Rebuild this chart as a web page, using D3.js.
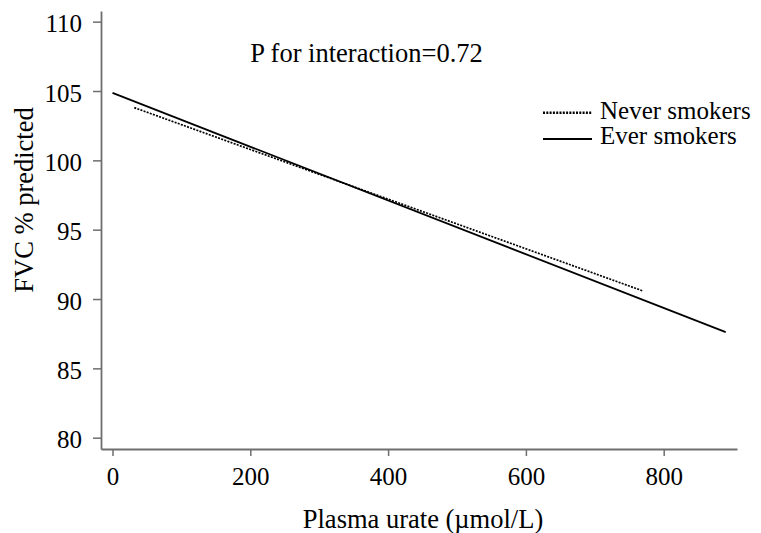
<!DOCTYPE html>
<html>
<head>
<meta charset="utf-8">
<script src="https://cdn.jsdelivr.net/npm/d3@7"></script>
</head>
<body style="margin:0; background:#fff">
<svg id="chart" width="761" height="533"></svg>
<script>
// Fitted FVC % predicted against plasma urate, by smoking status
const seriesNames = ["Never smokers", "Ever smokers"];
const neverUrate = [31.6, 770];
const neverFVC = [103.8, 90.58];
const everUrate = [0, 890];
const everFVC = [104.86, 87.61];
const xTicks = [0, 200, 400, 600, 800];
const yTicks = [80, 85, 90, 95, 100, 105, 110];
const annotation = "P for interaction=0.72";
const xTitle = "Plasma urate (\u00b5mol/L)";
const yTitle = "FVC % predicted";

const FONT = "Liberation Serif";
const svg = d3.select("#chart");
const axisColor = "#6e6e6e";

const x = d3.scaleLinear().domain([-16.7, 906.4]).range([101, 737]);
const y = d3.scaleLinear().domain([79.185, 110.77]).range([449, 11]);

// Axes
const gx = svg.append("g")
  .attr("transform", `translate(0,${y.range()[0]})`)
  .call(d3.axisBottom(x).tickValues(xTicks).tickFormat(d3.format("d"))
    .tickSize(7).tickSizeOuter(0).tickPadding(11));
const gy = svg.append("g")
  .attr("transform", `translate(${x.range()[0]},0)`)
  .call(d3.axisLeft(y).tickValues(yTicks).tickFormat(d3.format("d"))
    .tickSize(8).tickSizeOuter(0).tickPadding(11));

[gx, gy].forEach(g => {
  g.attr("font-family", FONT).attr("font-size", 25);
  g.select(".domain").attr("stroke", axisColor).attr("stroke-width", 1.8);
  g.selectAll(".tick line").attr("stroke", axisColor).attr("stroke-width", 1.5);
  g.selectAll(".tick text").attr("fill", "#000");
});
gy.selectAll(".tick text").attr("dy", "0.4em");

// Fitted lines
const line = d3.line().x(d => x(d[0])).y(d => y(d[1]));
const neverPts = neverUrate.map((u, i) => [u, neverFVC[i]]);
const everPts = everUrate.map((u, i) => [u, everFVC[i]]);

svg.append("path").datum(neverPts)
  .attr("d", line).attr("fill", "none").attr("stroke", "#000")
  .attr("stroke-width", 1.7).attr("stroke-dasharray", "2,1.3");
svg.append("path").datum(everPts)
  .attr("d", line).attr("fill", "none").attr("stroke", "#000")
  .attr("stroke-width", 1.8);

// Annotation
svg.append("text")
  .attr("x", 366.5).attr("y", 61.7)
  .attr("text-anchor", "middle")
  .attr("font-family", FONT).attr("font-size", 26.5)
  .text(annotation);

// Legend
const legend = svg.append("g");
const legendRows = [
  { name: seriesNames[0], dash: "2,1.3", ly: 112.7, ty: 118.5 },
  { name: seriesNames[1], dash: null, ly: 139, ty: 143.5 }
];
legendRows.forEach(r => {
  legend.append("line")
    .attr("x1", 543).attr("x2", 592).attr("y1", r.ly).attr("y2", r.ly)
    .attr("stroke", "#000").attr("stroke-width", r.dash ? 2.4 : 1.8)
    .attr("stroke-dasharray", r.dash);
  legend.append("text")
    .attr("x", 600).attr("y", r.ty)
    .attr("font-family", FONT).attr("font-size", 25)
    .text(r.name);
});

// Axis titles
svg.append("text")
  .attr("x", 423).attr("y", 528)
  .attr("text-anchor", "middle")
  .attr("font-family", FONT).attr("font-size", 26.5)
  .text(xTitle);
svg.append("text")
  .attr("transform", "translate(33,200) rotate(-90)")
  .attr("text-anchor", "middle")
  .attr("font-family", FONT).attr("font-size", 26.5)
  .text(yTitle);
</script>
</body>
</html>
